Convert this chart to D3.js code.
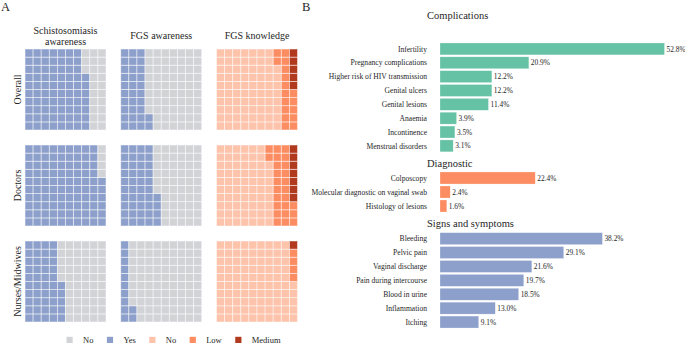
<!DOCTYPE html>
<html>
<head>
<meta charset="utf-8">
<script src="https://cdn.jsdelivr.net/npm/d3@7"></script>
<style>
  body { margin: 0; background: #fff; }
</style>
</head>
<body>
<div id="chart"></div>
<script>
// panel A: waffles (counts out of 100)
const waffleRows = ["Overall", "Doctors", "Nurses/Midwives"];
const waffleTitles = [["Schistosomiasis", "awareness"], ["FGS awareness"], ["FGS knowledge"]];
const schistoYes = [77, 96, 45];
const fgsAwareYes = [32, 44, 12];
const knowledgeLow = [17, 25, 4];
const knowledgeMedium = [5, 7, 1];

const legendLabels = ["No", "Yes", "No", "Low", "Medium"];
const legendKeys = ["no", "yes", "kno", "low", "medium"];

// panel B: percentages
const complicationLabels = ["Infertility", "Pregnancy complications", "Higher risk of HIV transmission",
  "Genital ulcers", "Genital lesions", "Anaemia", "Incontinence", "Menstrual disorders"];
const complicationValues = [52.8, 20.9, 12.2, 12.2, 11.4, 3.9, 3.5, 3.1];
const diagnosticLabels = ["Colposcopy", "Molecular diagnostic on vaginal swab", "Histology of lesions"];
const diagnosticValues = [22.4, 2.4, 1.6];
const symptomLabels = ["Bleeding", "Pelvic pain", "Vaginal discharge", "Pain during intercourse",
  "Blood in urine", "Inflammation", "Itching"];
const symptomValues = [38.2, 29.1, 21.6, 19.7, 18.5, 13.0, 9.1];

const colors = {
    no: "#d1d3d6", yes: "#8da0cb",
    kno: "#fdc3ab", low: "#fc8d62", medium: "#b13a1e"
};
const FONT = '"Liberation Serif", "Times New Roman", serif';

let width = 685, height = 344;
let svg = d3.select('#chart').append('svg')
    .attr('width', width)
    .attr('height', height);

function label(sel, size) {
    return sel.style('font-family', FONT).style('font-size', size + 'px').attr('fill', '#262626');
}

label(svg.append('text').attr('x', 1).attr('y', 10.5), 12.5).text('A');
label(svg.append('text').attr('x', 302).attr('y', 10.5), 12.5).text('B');

// ---- waffles ----
let gridSize = 81;
let colX = d3.scaleBand().domain([0, 1, 2]).range([25, 25 + 3 * 95.75]);
let rowY = d3.scaleBand().domain([0, 1, 2]).range([49, 49 + 3 * 96]);
let cell = d3.scaleBand().domain(d3.range(10)).range([0, gridSize]);

function waffleCells(parts) {
    // parts: [[key, count], ...] filled column by column, bottom to top
    let cells = [];
    parts.forEach(([key, n]) => {
        for (let i = 0; i < n; i++) cells.push(key);
    });
    return cells.map((key, i) => ({ key: key, col: Math.floor(i / 10), row: 9 - (i % 10) }));
}

waffleRows.forEach((rowName, r) => {
    let panels = [
        [["yes", schistoYes[r]], ["no", 100 - schistoYes[r]]],
        [["yes", fgsAwareYes[r]], ["no", 100 - fgsAwareYes[r]]],
        [["kno", 100 - knowledgeLow[r] - knowledgeMedium[r]], ["low", knowledgeLow[r]], ["medium", knowledgeMedium[r]]]
    ];
    panels.forEach((parts, c) => {
        let g = svg.append('g').attr('transform', `translate(${colX(c)},${rowY(r)})`);
        g.selectAll('rect').data(waffleCells(parts)).join('rect')
            .attr('x', d => cell(d.col))
            .attr('y', d => cell(d.row))
            .attr('width', cell.bandwidth())
            .attr('height', cell.bandwidth())
            .attr('fill', d => colors[d.key])
            .attr('stroke', '#fff')
            .attr('stroke-opacity', 0.6)
            .attr('stroke-width', 0.8);
    });
    label(svg.append('text'), 10)
        .attr('transform', `translate(21,${rowY(r) + gridSize / 2}) rotate(-90)`)
        .attr('text-anchor', 'middle')
        .text(rowName);
});

waffleTitles.forEach((lines, c) => {
    let cx = colX(c) + gridSize / 2;
    let t = label(svg.append('text'), 10).attr('text-anchor', 'middle');
    let y0 = lines.length === 2 ? 33.7 : 38.7;
    lines.forEach((line, i) => {
        t.append('tspan').attr('x', cx).attr('y', y0 + i * 10.8).text(line);
    });
});

// legend
let lx = 66.5;
legendLabels.forEach((lab, i) => {
    svg.append('rect')
        .attr('x', lx).attr('y', 336.8)
        .attr('width', 6.2).attr('height', 6.2)
        .attr('fill', colors[legendKeys[i]]);
    let t = label(svg.append('text'), 8.5)
        .attr('x', lx + 16.5).attr('y', 342.6)
        .text(lab);
    lx += 16.5 + t.node().getComputedTextLength() + 13.5;
});

// ---- bars ----
let x = d3.scaleLinear().domain([0, 52.8]).range([440, 664.5]);
let groups = [
    { title: "Complications", titleY: 18.5, labels: complicationLabels, values: complicationValues, color: "#66c2a5", range: [42, 152.8] },
    { title: "Diagnostic", titleY: 166.5, labels: diagnosticLabels, values: diagnosticValues, color: "#fc8d62", range: [171, 213] },
    { title: "Signs and symptoms", titleY: 226.5, labels: symptomLabels, values: symptomValues, color: "#8da0cb", range: [231.7, 329] }
];

groups.forEach(grp => {
    let y = d3.scaleBand().domain(grp.labels).range(grp.range).paddingInner(0.14).paddingOuter(0.07);
    let data = grp.labels.map((l, i) => ({ label: l, value: grp.values[i] }));

    label(svg.append('text'), 10.5)
        .attr('x', 427).attr('y', grp.titleY)
        .text(grp.title);

    svg.append('g').selectAll('rect').data(data).join('rect')
        .attr('x', x(0))
        .attr('y', d => y(d.label))
        .attr('width', d => x(d.value) - x(0))
        .attr('height', y.bandwidth())
        .attr('fill', grp.color)
        .attr('stroke', '#fff')
        .attr('stroke-opacity', 0.5)
        .attr('stroke-width', 0.5);

    label(svg.append('g').selectAll('text').data(data).join('text'), 7.6)
        .attr('x', 427)
        .attr('y', d => y(d.label) + y.bandwidth() / 2)
        .attr('dy', '0.35em')
        .attr('text-anchor', 'end')
        .text(d => d.label);

    label(svg.append('g').selectAll('text').data(data).join('text'), 7.4)
        .attr('x', d => x(d.value) + 2)
        .attr('y', d => y(d.label) + y.bandwidth() / 2)
        .attr('dy', '0.35em')
        .text(d => d.value.toFixed(1) + '%');
});
</script>
</body>
</html>
